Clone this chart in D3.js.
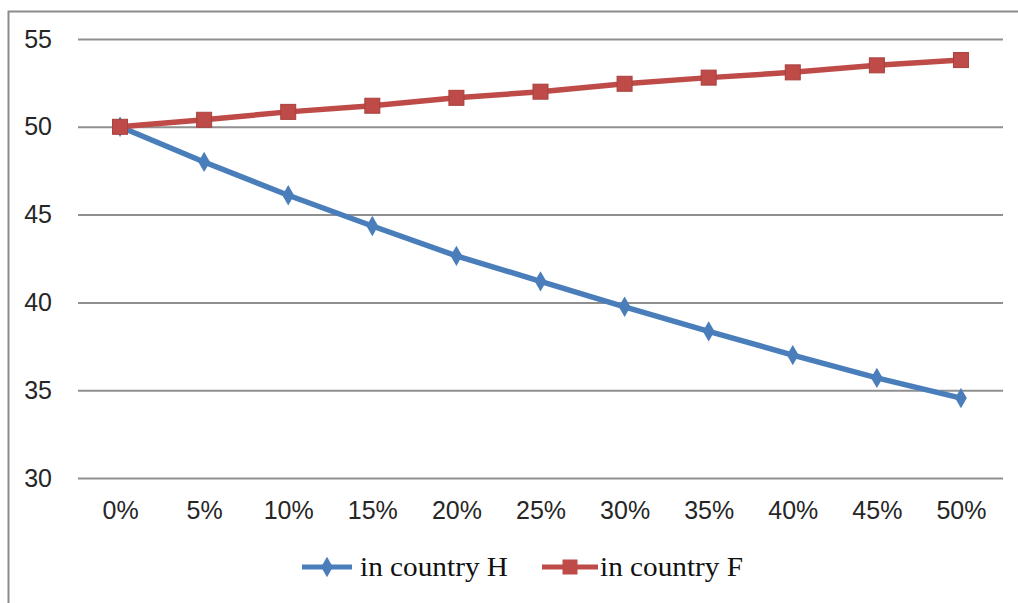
<!DOCTYPE html>
<html>
<head>
<meta charset="utf-8">
<script src="https://cdn.jsdelivr.net/npm/d3@7"></script>
<style>
  html, body { margin: 0; padding: 0; background: #fff; }
  svg { display: block; }
</style>
</head>
<body>
<svg id="chart" width="1018" height="603"></svg>
<script>
// Categories (share) and the two series
const categories = ["0%", "5%", "10%", "15%", "20%", "25%", "30%", "35%", "40%", "45%", "50%"];
const countryH = [50, 48.0, 46.1, 44.35, 42.65, 41.2, 39.75, 38.35, 37.0, 35.7, 34.55];
const countryF = [50, 50.4, 50.85, 51.2, 51.65, 52.0, 52.45, 52.8, 53.1, 53.5, 53.8];
const yTicks = [30, 35, 40, 45, 50, 55];
const seriesNames = ["in country H", "in country F"];

const svg = d3.select("#chart");
const W = 1018, H = 603;
const plot = { left: 78, right: 1003, top: 39, bottom: 478 };
const blue = "#4A7EBB", red = "#BE4B48";
const tickFont = "'Liberation Sans', Arial, sans-serif";

// Outer frame
svg.append("rect")
  .attr("x", 8.5).attr("y", 11.5)
  .attr("width", W + 20).attr("height", H + 20)
  .attr("fill", "none").attr("stroke", "#8c8c8c").attr("stroke-width", 2);

const x = d3.scalePoint().domain(categories).range([plot.left, plot.right]).padding(0.5);
const y = d3.scaleLinear().domain([30, 55]).range([plot.bottom, plot.top]);

// Horizontal gridlines + y labels
const yAxis = d3.axisLeft(y).tickValues(yTicks).tickSize(-(plot.right - plot.left)).tickPadding(26);
const gy = svg.append("g").attr("transform", `translate(${plot.left},0)`).call(yAxis);
gy.select(".domain").remove();
gy.selectAll(".tick line").attr("stroke", "#8f8f8f").attr("stroke-width", 2);
gy.selectAll(".tick text")
  .attr("fill", "#262626").attr("font-family", tickFont).attr("font-size", 25);

// Category labels
const xAxis = d3.axisBottom(x).tickSize(0).tickPadding(23);
const gx = svg.append("g").attr("transform", `translate(0,${plot.bottom})`).call(xAxis);
gx.select(".domain").remove();
gx.selectAll(".tick text")
  .attr("fill", "#262626").attr("font-family", tickFont).attr("font-size", 25);

const line = d3.line().x((d, i) => x(categories[i])).y(d => y(d));

// Series lines
svg.append("path").datum(countryH).attr("d", line)
  .attr("fill", "none").attr("stroke", blue).attr("stroke-width", 5.5).attr("stroke-linejoin", "round");
svg.append("path").datum(countryF).attr("d", line)
  .attr("fill", "none").attr("stroke", red).attr("stroke-width", 5.5).attr("stroke-linejoin", "round");

// Markers
const diamond = d3.symbol().type(d3.symbolDiamond).size(120);
svg.append("g").selectAll("path").data(countryH).join("path")
  .attr("d", diamond)
  .attr("transform", (d, i) => `translate(${x(categories[i])},${y(d)})`)
  .attr("fill", blue);
svg.append("g").selectAll("rect").data(countryF).join("rect")
  .attr("x", (d, i) => x(categories[i]) - 7.5).attr("y", d => y(d) - 7.5)
  .attr("width", 15).attr("height", 15)
  .attr("fill", red).attr("stroke", "#a8403d").attr("stroke-width", 1);

// Legend
const legendY = 567;
const legend = [
  { name: seriesNames[0], color: blue, x0: 302, x1: 352, mark: "diamond", tx: 360, len: 148 },
  { name: seriesNames[1], color: red, x0: 542, x1: 598, mark: "square", tx: 600, len: 143 }
];
legend.forEach(l => {
  svg.append("line").attr("x1", l.x0).attr("x2", l.x1).attr("y1", legendY).attr("y2", legendY)
    .attr("stroke", l.color).attr("stroke-width", 5);
  const cx = (l.x0 + l.x1) / 2;
  if (l.mark === "diamond") {
    svg.append("path").attr("d", diamond).attr("transform", `translate(${cx},${legendY})`).attr("fill", l.color);
  } else {
    svg.append("rect").attr("x", cx - 7.5).attr("y", legendY - 7.5).attr("width", 15).attr("height", 15).attr("fill", l.color);
  }
  svg.append("text").attr("x", l.tx).attr("y", legendY + 9)
    .attr("font-family", "'Liberation Serif', 'Times New Roman', serif").attr("font-size", 27)
    .attr("textLength", l.len).attr("lengthAdjust", "spacingAndGlyphs")
    .attr("fill", "#111").text(l.name);
});
</script>
</body>
</html>
